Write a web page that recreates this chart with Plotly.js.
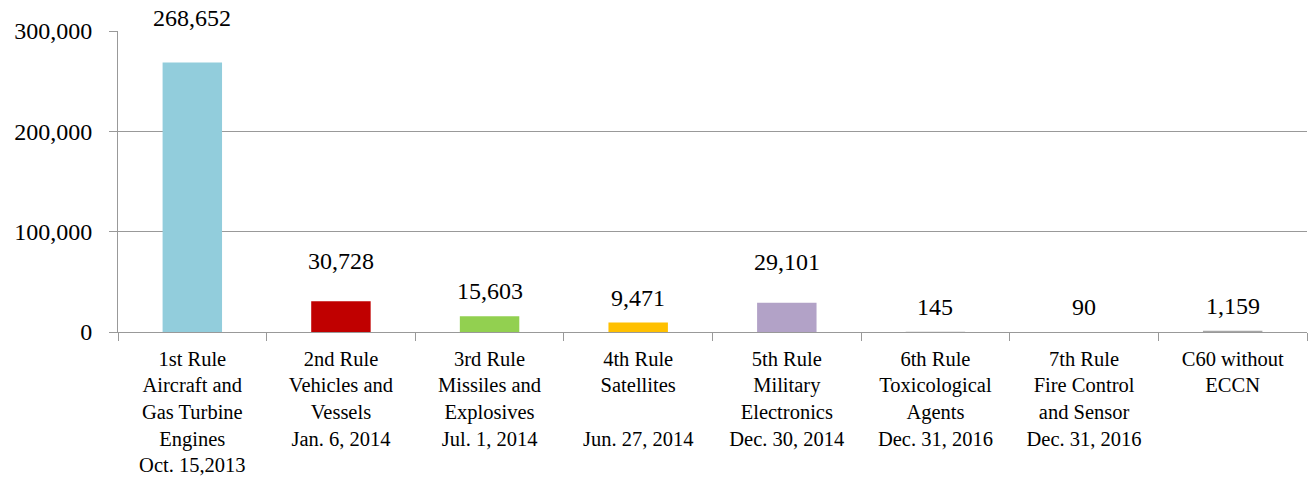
<!DOCTYPE html>
<html><head><meta charset="utf-8">
<script src="https://cdn.plot.ly/plotly-3.0.1.min.js"></script>
<style>html,body{margin:0;padding:0;background:#fff;}#chart{width:1309px;height:477px;}</style>
</head><body><div id="chart"></div>
<script>
const categories = [
  "1st Rule<br>Aircraft and<br>Gas Turbine<br>Engines<br>Oct. 15,2013",
  "2nd Rule<br>Vehicles and<br>Vessels<br>Jan. 6, 2014",
  "3rd Rule<br>Missiles and<br>Explosives<br>Jul. 1, 2014",
  "4th Rule<br>Satellites<br> <br>Jun. 27, 2014",
  "5th Rule<br>Military<br>Electronics<br>Dec. 30, 2014",
  "6th Rule<br>Toxicological<br>Agents<br>Dec. 31, 2016",
  "7th Rule<br>Fire Control<br>and Sensor<br>Dec. 31, 2016",
  "C60 without<br>ECCN"
];
const values = [268652, 30728, 15603, 9471, 29101, 145, 90, 1159];
const valueLabels = ["268,652", "30,728", "15,603", "9,471", "29,101", "145", "90", "1,159"];
const barColors = ["#92CDDC", "#C00000", "#92D050", "#FFC000", "#B2A2C7", "#A6A6A6", "#A6A6A6", "#A6A6A6"];
const labelLift = [29, 25, 10, 10, 26, 10, 10, 10];
const yTickVals = [0, 100000, 200000, 300000];
const yTickText = ["0", "100,000", "200,000", "300,000"];

const font = "'Liberation Serif', 'Times New Roman', serif";

const trace = {
  type: "bar",
  x: categories,
  y: values,
  marker: { color: barColors },
  width: 0.4,
  hoverinfo: "none"
};

const annotations = categories.map((c, i) => ({
  x: c, y: values[i], xref: "x", yref: "y",
  text: valueLabels[i], showarrow: false,
  yanchor: "bottom", yshift: labelLift[i],
  font: { family: font, size: 24, color: "#000" }
}));

const layout = {
  width: 1309, height: 477,
  margin: { l: 118, r: 2, t: 31, b: 145 },
  paper_bgcolor: "#fff", plot_bgcolor: "#fff",
  showlegend: false,
  font: { family: font, color: "#000" },
  bargap: 0.6,
  xaxis: {
    type: "category",
    tickson: "boundaries",
    ticks: "outside", ticklen: 8, tickcolor: "#999", tickwidth: 1,
    showline: true, linecolor: "#999", linewidth: 1,
    showgrid: false,
    ticklabelstandoff: 8,
    tickfont: { family: font, size: 20.5, color: "#000" },
    tickangle: 0,
    fixedrange: true
  },
  yaxis: {
    range: [0, 300000],
    tickvals: yTickVals, ticktext: yTickText,
    ticks: "outside", ticklen: 8, tickcolor: "#999",
    showline: true, linecolor: "#999",
    showgrid: true, gridcolor: "#999", gridwidth: 1,
    zeroline: false,
    ticklabelstandoff: 12,
    tickfont: { family: font, size: 24, color: "#000" },
    fixedrange: true
  },
  annotations: annotations
};

Plotly.newPlot("chart", [trace], layout, { displayModeBar: false, staticPlot: true });
</script>
</body></html>
